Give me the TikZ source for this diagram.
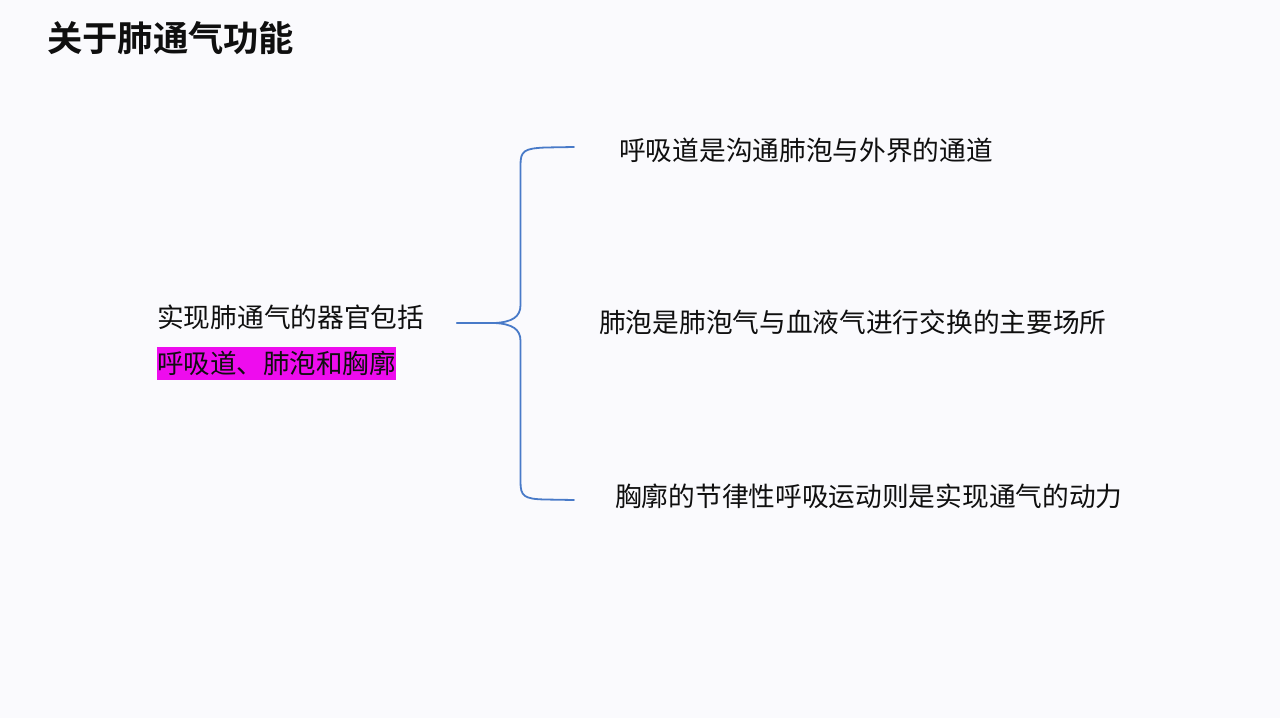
\documentclass[tikz,border=0pt]{standalone}
\usepackage{fontspec}
\setmainfont{Noto Sans CJK SC}[BoldFont={Noto Sans CJK SC Bold}]
\definecolor{bg}{RGB}{250,250,253}
\definecolor{bracecol}{RGB}{72,122,200}
\definecolor{hilite}{RGB}{238,12,238}
\definecolor{txt}{RGB}{15,15,15}
\tikzset{
  lbl/.style={anchor=west, inner sep=0pt, text=txt, font=\fontsize{26.7}{30}\selectfont},
  bracepath/.style={draw=bracecol, line width=1.8pt, line cap=round, line join=round}
}
\begin{document}
\begin{tikzpicture}[x=1pt,y=-1pt]
\fill[bg] (0,0) rectangle (1280,718);
\useasboundingbox (0,0) rectangle (1280,718);
\node[lbl, font=\fontsize{35.3}{40}\selectfont\bfseries] (title) at (47,38) {关于肺通气功能};
\node[lbl] (organs) at (157,317) {实现肺通气的器官包括};
\node[lbl, font=\fontsize{26.5}{30}\selectfont, fill=hilite, inner xsep=0pt, minimum height=33pt] (hl) at (157,363) {呼吸道、肺泡和胸廓};
\node[lbl] (r1) at (619,150) {呼吸道是沟通肺泡与外界的通道};
\node[lbl] (r2) at (599,322) {肺泡是肺泡气与血液气进行交换的主要场所};
\node[lbl] (r3) at (615,496) {胸廓的节律性呼吸运动则是实现通气的动力};
\coordinate (tip) at (457,323);
\coordinate (top) at (574,147);
\coordinate (bot) at (574,500);
\draw[bracepath] (top) -- (545,147.5) .. controls (524,148.5) and (520.5,151) .. (520.5,165)
  -- (520.5,305) .. controls (520.5,317) and (512,322) .. (495,323) -- (tip);
\draw[bracepath] (tip) -- (495,323) .. controls (512,324) and (520.5,329) .. (520.5,341)
  -- (520.5,482) .. controls (520.5,496) and (524,499) .. (545,499.5) -- (bot);
\end{tikzpicture}
\end{document}
